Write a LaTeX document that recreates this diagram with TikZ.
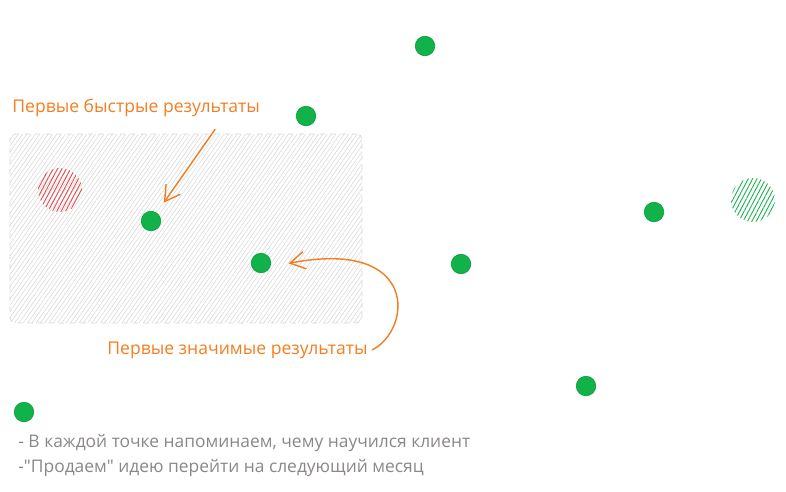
\documentclass[tikz,border=0pt]{standalone}
\usepackage{fontspec}
\setmainfont{Open Sans}[Ligatures=TeXOff]
\usepackage{tikz}
\usetikzlibrary{arrows.meta,positioning,calc,patterns.meta}
\definecolor{xgreen}{HTML}{12B24A}
\definecolor{xorange}{HTML}{F47D20}
\definecolor{xred}{HTML}{E8474F}
\definecolor{xgray}{HTML}{8C8787}
\definecolor{xhatch}{HTML}{D6D6D6}

\begin{document}
\begin{tikzpicture}[
    x=0.02cm, y=-0.02cm,
    >=Stealth,
    dot/.style={circle, fill=xgreen, draw=xgreen!90!black, minimum size=0.39cm, inner sep=0pt},
    spot/.style={circle, minimum size=0.88cm, inner sep=0pt, pattern={Lines[angle=62, distance=2.2pt, line width=0.5pt]}, pattern color=#1},
    zone/.style={rectangle, rounded corners=3pt, draw=xhatch, dashed, minimum width=7.04cm, minimum height=3.78cm, pattern={Lines[angle=55, distance=2pt, line width=0.3pt]}, pattern color=xhatch},
    callout/.style={font=\fontsize{10}{12}\selectfont, text=xorange, inner sep=0pt},
    remark/.style={font=\fontsize{9.9}{11}\selectfont, text=xgray, inner sep=0pt},
    pointer/.style={-{Straight Barb[length=3mm, width=3.5mm]}, thick, xorange},
]
\useasboundingbox (0,0) rectangle (786,491);

% Hatched zone
\node[zone] (area) at (186,228.5) {};

% Spots
\node[spot=xred] (risk) at (60,190) {};
\node[spot=xgreen] (goal) at (753,200) {};

% Points of the path
\node[dot] (p1) at (151,221) {};
\node[dot] (p2) at (261,263) {};
\node[dot] (p3) at (306,116) {};
\node[dot] (p4) at (425,46) {};
\node[dot] (p5) at (461,264) {};
\node[dot] (p6) at (654,212) {};
\node[dot] (p7) at (586,386) {};
\node[dot] (p8) at (24,412) {};

% Callouts
\node[callout, anchor=west] (fast) at (12,108) {Первые быстрые результаты};
\node[callout, anchor=west] (sig) at (107,350) {Первые значимые результаты};

\draw[pointer, shorten >=7pt] ($(fast.south east)+(-45,12)$) -- (p1);
\draw[pointer, shorten >=2pt] ($(sig.east)+(4,0)$) .. controls (412,330) and (420,238) .. ($(p2.east)+(14,1)$);

% Notes
\node[remark, anchor=west] (n1) at (18,443) {- В каждой точке напоминаем, чему научился клиент};
\node[remark, below=4pt of n1.south west, anchor=north west] (n2) {-"Продаем" идею перейти на следующий месяц};

\end{tikzpicture}
\end{document}
